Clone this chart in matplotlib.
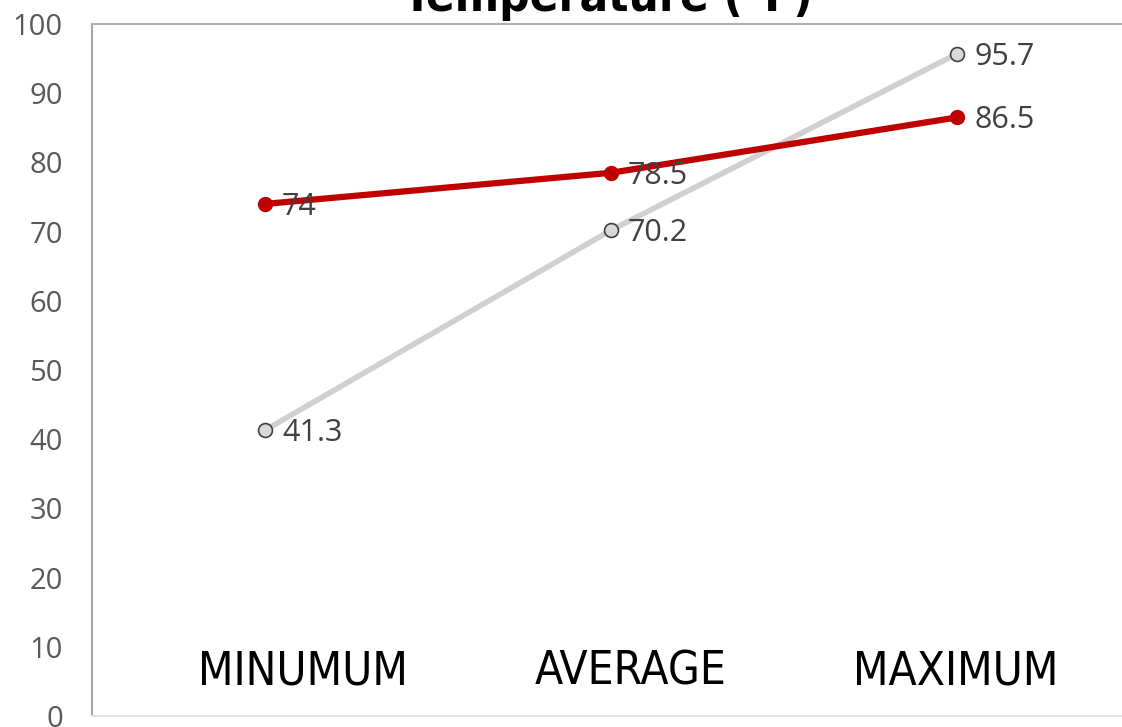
import numpy as np
import matplotlib
matplotlib.use("Agg")
import matplotlib.pyplot as plt

# data
categories = ["MINUMUM", "AVERAGE", "MAXIMUM"]
series_red = [74, 78.5, 86.5]
series_gray = [41.3, 70.2, 95.7]
y_ticks = [0, 10, 20, 30, 40, 50, 60, 70, 80, 90, 100]
title = "Temperature (\u00b0F)"

W, H, DPI = 1122, 727, 100
fig = plt.figure(figsize=(W / DPI, H / DPI), dpi=DPI)
ax = fig.add_axes([92 / W, 1 - 716 / H, (1130 - 92) / W, (716 - 24) / H])

x = np.arange(len(categories)) + 0.5

ax.plot(x, series_gray, color="#D0D0D0", lw=4.0, zorder=2,
        marker="o", ms=10, mfc="#D9D9D9", mec="#404040", mew=1.2)
ax.plot(x, series_red, color="#C00000", lw=4.5, zorder=3,
        marker="o", ms=10, mfc="#C00000", mec="#C00000")

label_font = ["Open Sans", "DejaVu Sans"]
for series in (series_red, series_gray):
    for xi, v in zip(x, series):
        ax.annotate(f"{v:g}", (xi, v), xytext=(17, -3), textcoords="offset pixels",
                    ha="left", va="center", fontsize=22, color="#404040",
                    family=label_font, zorder=4)

# category names are text boxes inside the plot, a bit off-centre
cat_shift = [0.11, 0.058, -0.003]
for xi, c, dx in zip(x, categories, cat_shift):
    ax.text(xi + dx, 6.3, c, ha="center", va="center", fontsize=33,
            color="black", family="DejaVu Sans", fontstretch="condensed")

ax.set_xlim(0, len(categories))
ax.set_ylim(0, 100)
ax.set_xticks([])
ax.set_yticks(y_ticks)
ax.set_yticklabels([str(t) for t in y_ticks], family=label_font,
                   fontsize=21, color="#595959")
ax.tick_params(axis="y", length=0, pad=21)

ax.spines["left"].set_color("#A6A6A6")
ax.spines["top"].set_color("#B0B0B0")
ax.spines["bottom"].set_color("#E0E0E0")
ax.spines["right"].set_visible(False)
for s in ["left", "top", "bottom"]:
    ax.spines[s].set_linewidth(1.5)

fig.text(608 / W, 1 - 11 / H, title, ha="center", va="baseline",
         fontsize=34, fontweight="bold", color="black",
         family="DejaVu Sans", fontstretch="condensed")

fig.savefig("out.png", dpi=DPI)
